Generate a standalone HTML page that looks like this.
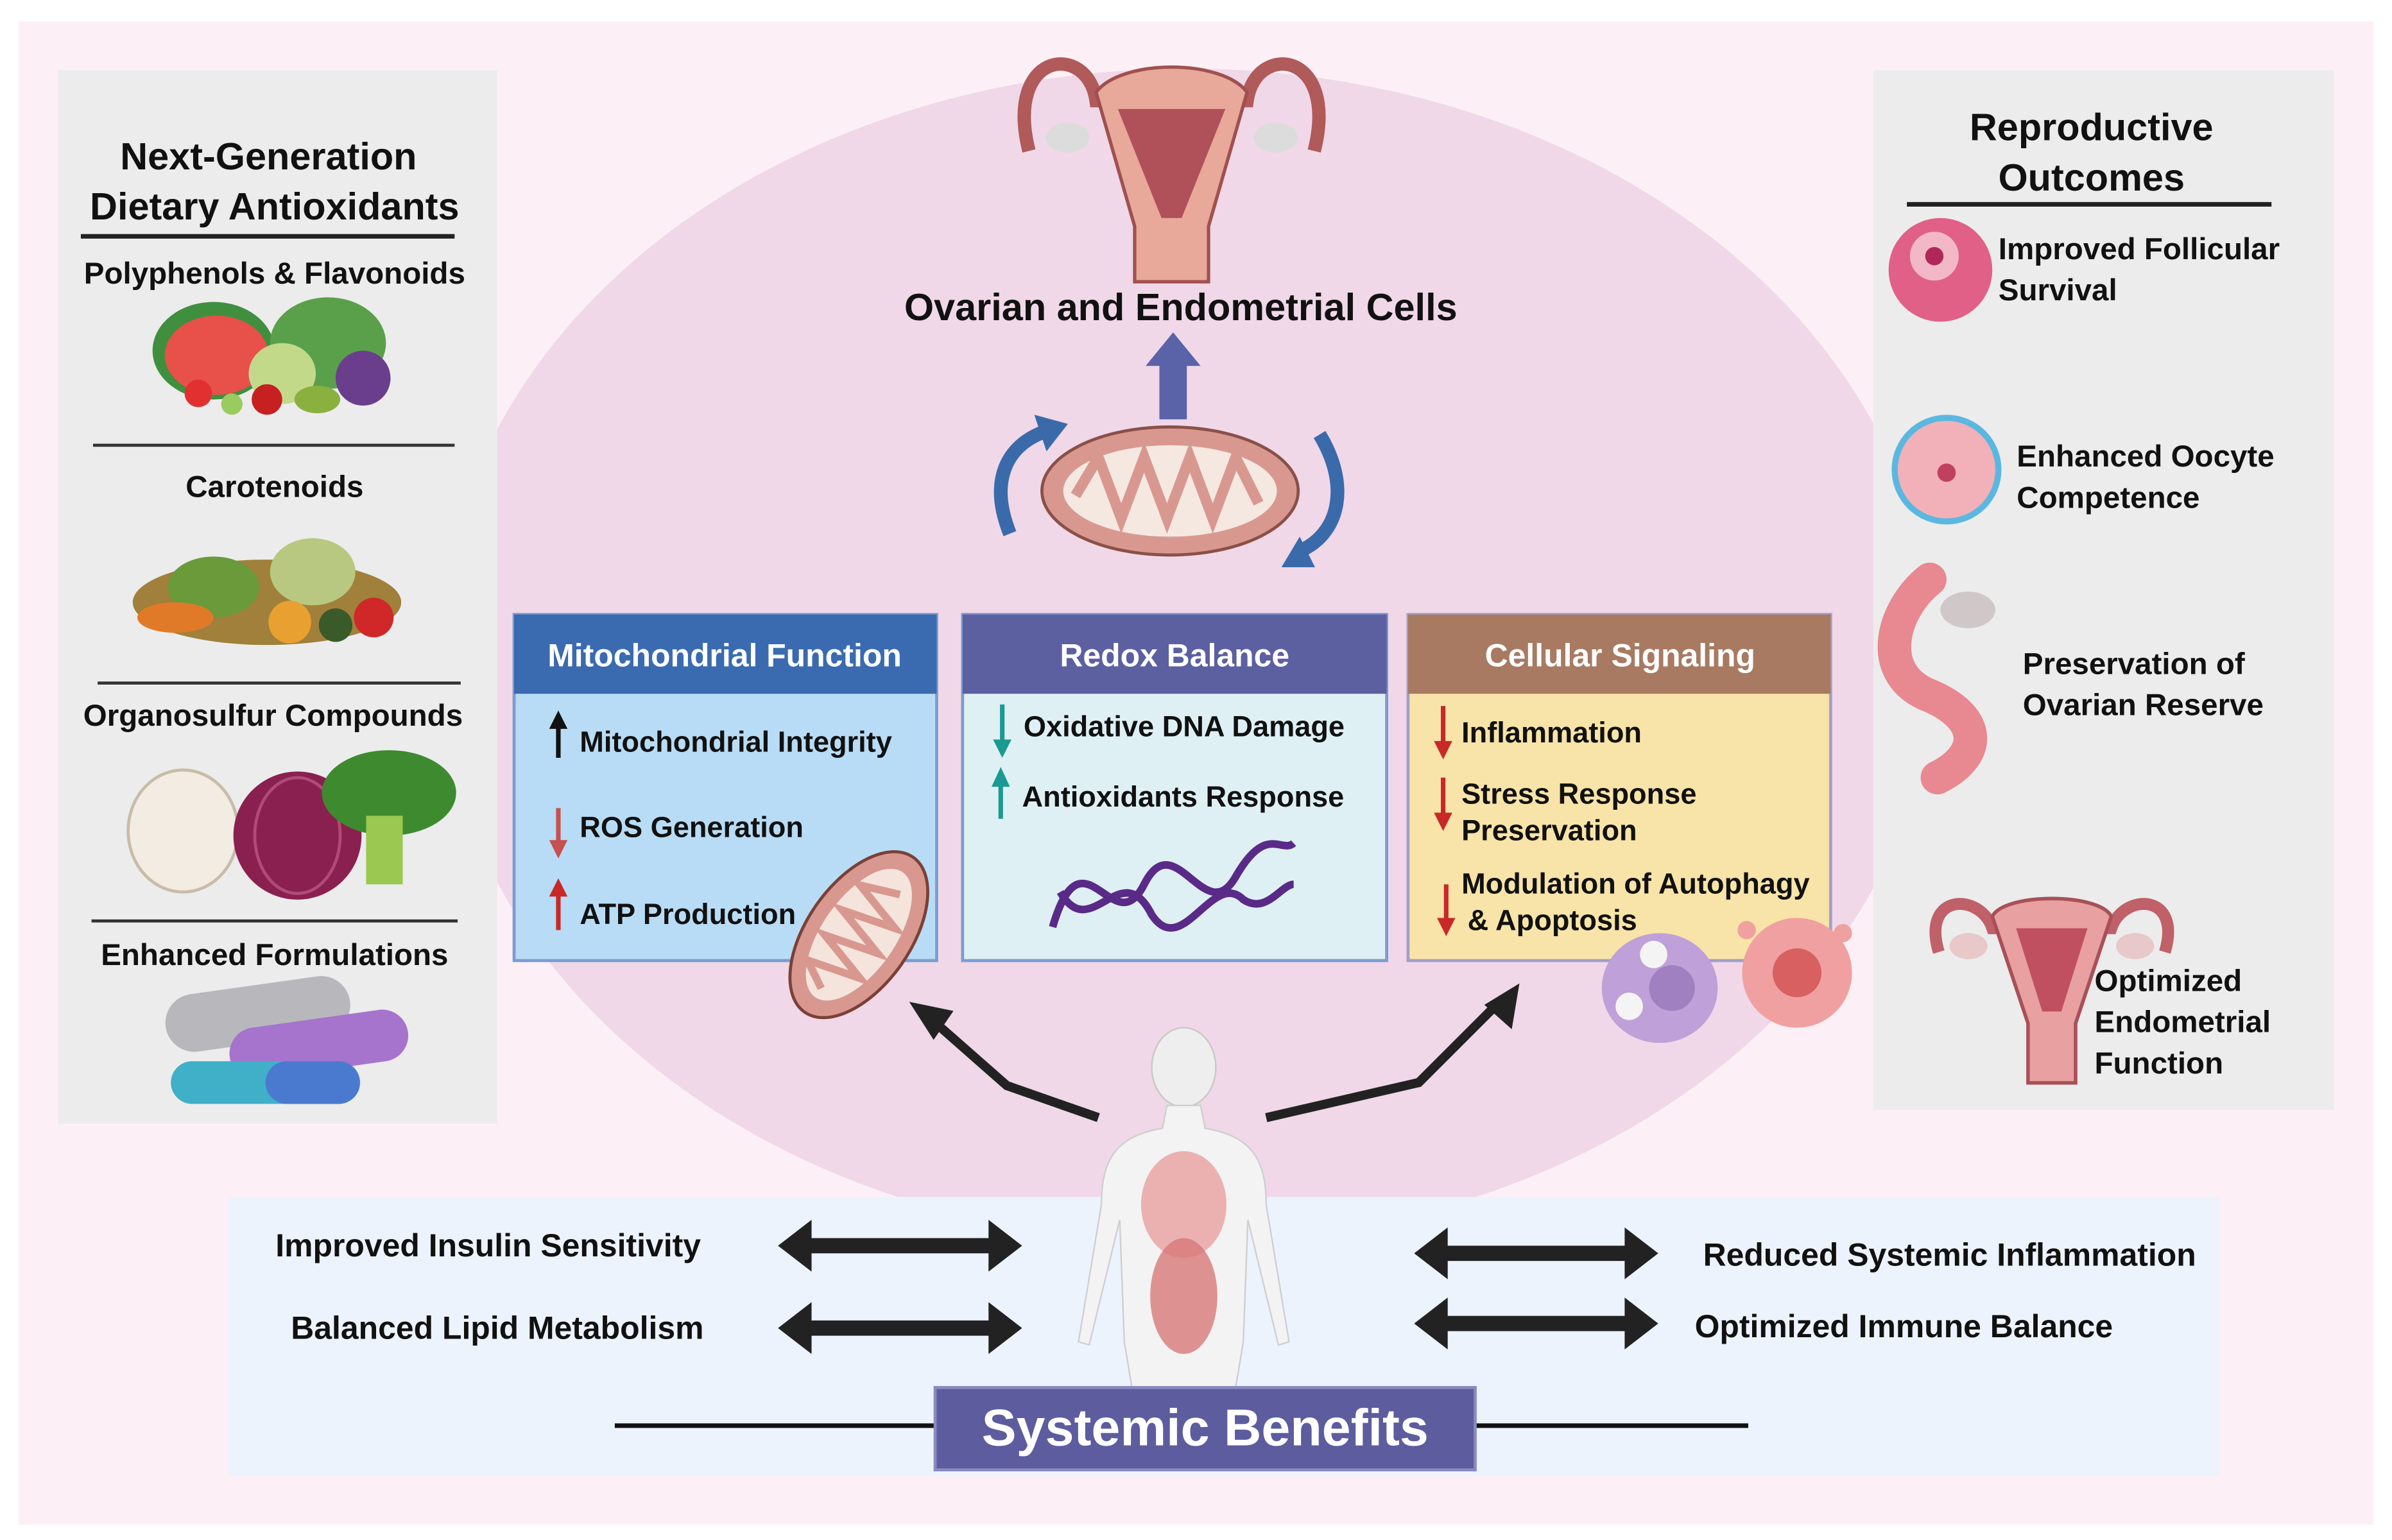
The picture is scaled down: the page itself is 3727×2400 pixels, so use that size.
<!DOCTYPE html>
<html><head><meta charset="utf-8"><style>
html,body{margin:0;padding:0;background:#fff;width:3727px;height:2400px;overflow:hidden}
svg{display:block}
text{font-family:"Liberation Sans",sans-serif;font-weight:bold;fill:#111}
</style></head><body>
<svg width="3727" height="2400" viewBox="0 0 1568 1010" preserveAspectRatio="none" xmlns="http://www.w3.org/2000/svg">
<rect x="0" y="0" width="1568" height="1010" fill="#fff"/>
<rect x="12" y="14" width="1544" height="986" fill="#fcf0f6"/>
<ellipse cx="778" cy="430" rx="490" ry="385" fill="#f0d8e8"/>
<!-- left panel -->
<rect x="38" y="46" width="288" height="691" fill="#ececec"/>
<text x="176" y="111" font-size="25" text-anchor="middle">Next-Generation</text>
<text x="180" y="144" font-size="25" text-anchor="middle">Dietary Antioxidants</text>
<line x1="53" y1="155" x2="298" y2="155" stroke="#222" stroke-width="3"/>
<text x="180" y="186" font-size="20" text-anchor="middle">Polyphenols &amp; Flavonoids</text>
<g>
<ellipse cx="140" cy="230" rx="40" ry="32" fill="#3f8f3f"/><ellipse cx="142" cy="233" rx="34" ry="26" fill="#e8504a"/>
<ellipse cx="215" cy="225" rx="38" ry="30" fill="#5aa04a"/><circle cx="238" cy="248" r="18" fill="#6a3e8c"/>
<ellipse cx="185" cy="245" rx="22" ry="20" fill="#c3d98a"/><circle cx="130" cy="258" r="9" fill="#e23030"/><circle cx="175" cy="262" r="10" fill="#c62020"/>
<ellipse cx="208" cy="262" rx="15" ry="9" fill="#8ab040"/><circle cx="152" cy="265" r="7" fill="#9acb60"/>
</g>
<line x1="61" y1="292" x2="298" y2="292" stroke="#333" stroke-width="2"/>
<text x="180" y="326" font-size="20" text-anchor="middle">Carotenoids</text>
<g>
<ellipse cx="175" cy="395" rx="88" ry="28" fill="#a0803a"/><ellipse cx="140" cy="385" rx="30" ry="20" fill="#6a9a3a"/>
<ellipse cx="205" cy="375" rx="28" ry="22" fill="#b8c880"/><circle cx="245" cy="405" r="13" fill="#d02828"/>
<circle cx="190" cy="408" r="14" fill="#e8a030"/><circle cx="220" cy="410" r="11" fill="#3a5a2a"/><ellipse cx="115" cy="405" rx="25" ry="10" fill="#e07a28"/>
</g>
<line x1="64" y1="448" x2="302" y2="448" stroke="#333" stroke-width="2"/>
<text x="179" y="476" font-size="20" text-anchor="middle">Organosulfur Compounds</text>
<g>
<ellipse cx="120" cy="545" rx="36" ry="40" fill="#f2ece2" stroke="#c8bca8" stroke-width="2"/>
<ellipse cx="195" cy="548" rx="42" ry="42" fill="#8a2050"/><ellipse cx="195" cy="548" rx="28" ry="38" fill="none" stroke="#b04a78" stroke-width="2"/>
<ellipse cx="255" cy="520" rx="44" ry="28" fill="#3e8a2e"/><rect x="240" y="535" width="24" height="45" fill="#9ac850"/>
</g>
<line x1="60" y1="604" x2="300" y2="604" stroke="#333" stroke-width="2"/>
<text x="180" y="633" font-size="20" text-anchor="middle">Enhanced Formulations</text>
<g>
<rect x="108" y="646" width="122" height="38" rx="19" fill="#b8b8bc" transform="rotate(-8 169 665)"/>
<rect x="150" y="668" width="118" height="34" rx="17" fill="#a674cc" transform="rotate(-8 209 685)"/>
<rect x="112" y="696" width="124" height="28" rx="14" fill="#3fb0c8"/><rect x="174" y="696" width="62" height="28" rx="14" fill="#4a7ad0"/>
</g>
<!-- right panel -->
<rect x="1228" y="46" width="302" height="682" fill="#ececec"/>
<text x="1371" y="92" font-size="25" text-anchor="middle">Reproductive</text>
<text x="1371" y="125" font-size="25" text-anchor="middle">Outcomes</text>
<line x1="1250" y1="134" x2="1489" y2="134" stroke="#222" stroke-width="3"/>
<circle cx="1272" cy="177" r="34" fill="#e06088"/><circle cx="1268" cy="168" r="16" fill="#f2b8c8"/><circle cx="1268" cy="168" r="6" fill="#b02858"/>
<text x="1310" y="170" font-size="20">Improved Follicular</text><text x="1310" y="197" font-size="20">Survival</text>
<circle cx="1276" cy="308" r="36" fill="#5ab8e0"/><circle cx="1276" cy="308" r="32" fill="#f2b0b8"/><circle cx="1276" cy="310" r="6" fill="#c04060"/>
<text x="1322" y="306" font-size="20">Enhanced Oocyte</text><text x="1322" y="333" font-size="20">Competence</text>
<path d="M1265,380 C1240,400 1230,440 1262,455 C1300,470 1300,495 1270,510" fill="none" stroke="#e88890" stroke-width="22" stroke-linecap="round"/>
<ellipse cx="1290" cy="400" rx="18" ry="12" fill="#d0c8c8"/>
<text x="1326" y="442" font-size="20">Preservation of</text><text x="1326" y="469" font-size="20">Ovarian Reserve</text>
<g transform="translate(1345,640) scale(0.78)">
<path d="M-95,-20 C-110,-70 -60,-70 -50,-40 L50,-40 C60,-70 110,-70 95,-20" fill="none" stroke="#c06068" stroke-width="10"/>
<path d="M-50,-50 C-40,-70 40,-70 50,-50 L20,40 L20,90 L-20,90 L-20,40 Z" fill="#e8a0a0" stroke="#a85058" stroke-width="3"/>
<path d="M-30,-40 L30,-40 L8,30 L-8,30 Z" fill="#c05060"/>
<ellipse cx="-70" cy="-25" rx="16" ry="11" fill="#e8c8c8"/><ellipse cx="70" cy="-25" rx="16" ry="11" fill="#e8c8c8"/>
</g>
<text x="1373" y="650" font-size="20">Optimized</text><text x="1373" y="677" font-size="20">Endometrial</text><text x="1373" y="704" font-size="20">Function</text>
<!-- uterus top -->
<g transform="translate(768,110) scale(1.1)">
<path d="M-85,-10 C-100,-70 -50,-75 -45,-40 L45,-40 C50,-75 100,-70 85,-10" fill="none" stroke="#b05a5a" stroke-width="8"/>
<path d="M-45,-45 C-30,-65 30,-65 45,-45 L22,35 L22,68 L-22,68 L-22,35 Z" fill="#e8a89a" stroke="#a05050" stroke-width="2"/>
<path d="M-32,-35 L32,-35 L6,30 L-6,30 Z" fill="#b05058"/>
<ellipse cx="-62" cy="-18" rx="13" ry="9" fill="#dcdcdc"/><ellipse cx="62" cy="-18" rx="13" ry="9" fill="#dcdcdc"/>
</g>
<text x="774" y="210" font-size="25" text-anchor="middle">Ovarian and Endometrial Cells</text>
<path d="M760,275 L760,240 L751,240 L769,218 L787,240 L778,240 L778,275 Z" fill="#5a62a8"/>
<!-- mitochondrion -->
<ellipse cx="767" cy="322" rx="84" ry="42" fill="#d89890" stroke="#8a5048" stroke-width="2"/>
<ellipse cx="767" cy="322" rx="70" ry="30" fill="#f4e8e0"/>
<path d="M705,325 L720,300 L735,340 L750,300 L765,340 L780,300 L795,340 L810,300 L825,330" fill="none" stroke="#d89890" stroke-width="7"/>
<path d="M662,350 C648,315 660,292 685,283" fill="none" stroke="#3a6aaa" stroke-width="9"/><path d="M678,272 L700,278 L686,296Z" fill="#3a6aaa"/>
<path d="M865,285 C885,318 878,348 855,360" fill="none" stroke="#3a6aaa" stroke-width="9"/><path d="M862,372 L840,372 L852,352Z" fill="#3a6aaa"/>
<!-- boxes -->
<rect x="337" y="403" width="277" height="227" fill="#b8dcf5" stroke="#7c9cd0" stroke-width="2"/>
<rect x="337" y="403" width="277" height="52" fill="#3a6bb0"/>
<text x="475" y="437" font-size="21" text-anchor="middle" style="fill:#fff">Mitochondrial Function</text>
<rect x="631" y="403" width="278" height="227" fill="#dff0f5" stroke="#7c9cd0" stroke-width="2"/>
<rect x="631" y="403" width="278" height="52" fill="#5c5fa0"/>
<text x="770" y="437" font-size="21" text-anchor="middle" style="fill:#fff">Redox Balance</text>
<rect x="923" y="403" width="277" height="227" fill="#f8e4a8" stroke="#a0a0c8" stroke-width="2"/>
<rect x="923" y="403" width="277" height="52" fill="#a87a62"/>
<text x="1062" y="437" font-size="21" text-anchor="middle" style="fill:#fff">Cellular Signaling</text>
<line x1="366" y1="497" x2="366" y2="474" stroke="#111" stroke-width="3"/><path d="M360,478 L366,466 L372,478Z" fill="#111"/>
<text x="380" y="493" font-size="19">Mitochondrial  Integrity</text>
<line x1="366" y1="530" x2="366" y2="553" stroke="#c85050" stroke-width="3"/><path d="M360,551 L366,563 L372,551Z" fill="#c85050"/>
<text x="380" y="549" font-size="19">ROS Generation</text>
<line x1="366" y1="610" x2="366" y2="585" stroke="#c82828" stroke-width="3"/><path d="M360,588 L366,576 L372,588Z" fill="#c82828"/>
<text x="380" y="606" font-size="19">ATP Production</text>
<g transform="rotate(-55 563 613)"><ellipse cx="563" cy="613" rx="62" ry="34" fill="#d89890" stroke="#7a4038" stroke-width="2"/><ellipse cx="563" cy="613" rx="50" ry="24" fill="#f4e4dc"/>
<path d="M520,613 L530,595 L540,630 L550,595 L560,630 L570,595 L580,630 L590,595 L600,620" fill="none" stroke="#d89890" stroke-width="5"/></g>
<line x1="657" y1="462" x2="657" y2="487" stroke="#1a9a90" stroke-width="3"/><path d="M651,485 L657,497 L663,485Z" fill="#1a9a90"/>
<text x="671" y="483" font-size="19">Oxidative DNA Damage</text>
<line x1="656" y1="537" x2="656" y2="514" stroke="#1a9a90" stroke-width="3"/><path d="M650,516 L656,503 L662,516Z" fill="#1a9a90"/>
<text x="670" y="529" font-size="19">Antioxidants Response</text>
<path d="M690,608 C710,540 730,620 750,580 C770,540 790,610 810,575 C830,540 840,560 848,553" fill="none" stroke="#5a2a88" stroke-width="5"/>
<path d="M695,585 C715,620 735,560 755,600 C775,630 795,570 815,590 C830,600 840,580 848,580" fill="none" stroke="#5a2a88" stroke-width="5"/>
<line x1="946" y1="463" x2="946" y2="488" stroke="#c82828" stroke-width="3"/><path d="M940,486 L946,498 L952,486Z" fill="#c82828"/>
<text x="958" y="487" font-size="19">Inflammation</text>
<line x1="946" y1="510" x2="946" y2="535" stroke="#c82828" stroke-width="3"/><path d="M940,533 L946,545 L952,533Z" fill="#c82828"/>
<text x="958" y="527" font-size="19">Stress Response</text><text x="958" y="551" font-size="19">Preservation</text>
<line x1="948" y1="580" x2="948" y2="604" stroke="#c82828" stroke-width="3"/><path d="M942,602 L948,614 L954,602Z" fill="#c82828"/>
<text x="958" y="586" font-size="19">Modulation of Autophagy</text><text x="962" y="610" font-size="19">&amp; Apoptosis</text>
<ellipse cx="1088" cy="648" rx="38" ry="36" fill="#c0a0d8"/><circle cx="1096" cy="648" r="15" fill="#a080c0"/>
<circle cx="1068" cy="660" r="9" fill="#f4f4f4"/><circle cx="1084" cy="626" r="9" fill="#f4f4f4"/>
<circle cx="1178" cy="638" r="36" fill="#f0a0a0"/><circle cx="1178" cy="638" r="16" fill="#d86060"/>
<circle cx="1145" cy="610" r="6" fill="#f0a0a0"/><circle cx="1208" cy="612" r="6" fill="#f0a0a0"/>
<rect x="150" y="785" width="1305" height="183" fill="#edf3fc"/>
<g>
<ellipse cx="776" cy="700" rx="21" ry="26" fill="#eeeeee" stroke="#c8c8c8"/>
<path d="M765,725 L787,725 L790,740 C820,745 830,760 830,790 L845,880 L838,882 L818,800 L815,880 L810,910 L742,910 L737,880 L734,800 L714,882 L707,880 L722,790 C722,760 732,745 762,740 Z" fill="#f3f3f3" stroke="#cfcfcf"/>
<ellipse cx="776" cy="790" rx="28" ry="35" fill="#e8a0a0" opacity="0.8"/><ellipse cx="776" cy="850" rx="22" ry="38" fill="#d87878" opacity="0.8"/>
</g>
<path d="M720,733 L660,712 L610,668" fill="none" stroke="#222" stroke-width="6"/><path d="M596,657 L625,663 L612,682Z" fill="#222"/>
<path d="M830,733 L930,710 L985,655" fill="none" stroke="#222" stroke-width="6"/><path d="M996,645 L991,675 L973,659Z" fill="#222"/>
<g fill="#222">
<path d="M510,817 L532,800 L532,812 L648,812 L648,800 L670,817 L648,834 L648,822 L532,822 L532,834Z"/>
<path d="M510,871 L532,854 L532,866 L648,866 L648,854 L670,871 L648,888 L648,876 L532,876 L532,888Z"/>
<path d="M927,822 L949,805 L949,817 L1065,817 L1065,805 L1087,822 L1065,839 L1065,827 L949,827 L949,839Z"/>
<path d="M927,868 L949,851 L949,863 L1065,863 L1065,851 L1087,868 L1065,885 L1065,873 L949,873 L949,885Z"/>
</g>
<text x="320" y="824" font-size="21" text-anchor="middle">Improved Insulin Sensitivity</text>
<text x="326" y="878" font-size="21" text-anchor="middle">Balanced Lipid Metabolism</text>
<text x="1278" y="830" font-size="21" text-anchor="middle">Reduced Systemic Inflammation</text>
<text x="1248" y="877" font-size="21" text-anchor="middle">Optimized Immune Balance</text>
<line x1="403" y1="935" x2="613" y2="935" stroke="#111" stroke-width="3"/>
<line x1="967" y1="935" x2="1146" y2="935" stroke="#111" stroke-width="3"/>
<rect x="613" y="910" width="354" height="54" fill="#5c5c9e" stroke="#8a8ac0" stroke-width="2"/>
<text x="790" y="948" font-size="34" text-anchor="middle" style="fill:#fff">Systemic Benefits</text>
</svg>
</body></html>
